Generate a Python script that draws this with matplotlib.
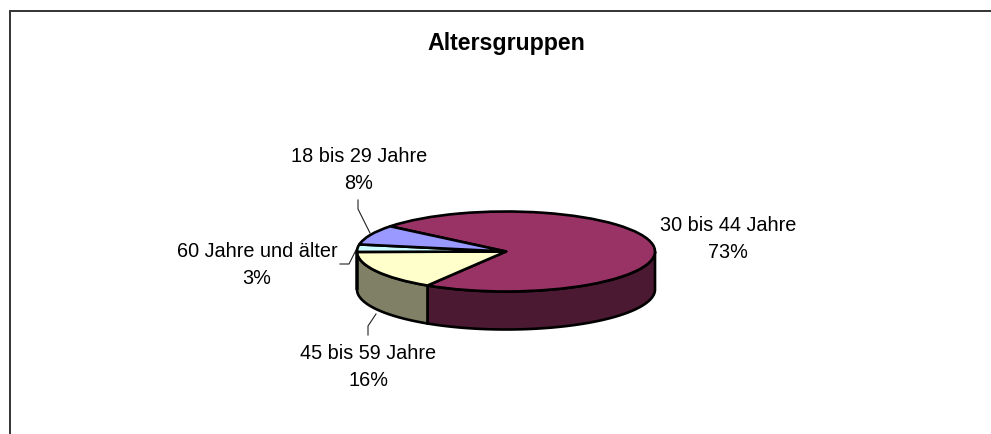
import numpy as np
import matplotlib
matplotlib.use("Agg")
import matplotlib.pyplot as plt

plt.rcParams['font.family'] = ['Liberation Sans', 'DejaVu Sans']

title_text = 'Altersgruppen'
labels = ['30 bis 44 Jahre', '45 bis 59 Jahre', '60 Jahre und älter', '18 bis 29 Jahre']
values = [73, 16, 3, 8]
top_colors = ['#993366', '#FFFFCC', '#CCFFFF', '#9999FF']
side_colors = ['#4C1933', '#808066', '#667F7F', '#4C4C7F']

W, H = 991, 435
start_angle = 141
cx, cy, rx, ry = 506, 252.5, 149, 40
depth = 38 / ry

fig = plt.figure(figsize=(W / 100, H / 100), dpi=100, facecolor='white')

# overlay in pixel coords for frame, leaders and text
bg = fig.add_axes([0, 0, 1, 1])
bg.set_xlim(0, W)
bg.set_ylim(H, 0)
bg.axis('off')

# pie axes covers the ellipse box, so the unit circle gets squashed
ax = fig.add_axes([(cx - rx) / W, 1 - (cy + ry) / H, 2 * rx / W, 2 * ry / H])
ax.patch.set_alpha(0)

wedgeprops = dict(edgecolor='black', linewidth=1.9, joinstyle='round')
ax.pie(values, startangle=start_angle, counterclock=False, colors=top_colors,
       radius=1, wedgeprops=wedgeprops)
ax.set_aspect('auto')
ax.set_xlim(-1, 1)
ax.set_ylim(-1, 1)
ax.axis('off')
for p in ax.patches:
    p.set_zorder(3)
    p.set_clip_on(False)

# side wall, only the front half of the rim shows
ends = start_angle - np.cumsum(values) * 3.6
starts = np.r_[start_angle, ends[:-1]]
for a0, a1, c in zip(starts, ends, side_colors):
    # unwrap to the range -180..0, the lower half of the ellipse
    lo, hi = max(a1, -180), min(a0, 0)
    if lo >= hi:
        continue
    t = np.radians(np.linspace(lo, hi, 80))
    xs = np.r_[np.cos(t), np.cos(t)[::-1]]
    ys = np.r_[np.sin(t), np.sin(t)[::-1] - depth]
    ax.fill(xs, ys, facecolor=c, edgecolor='black', linewidth=1.9, clip_on=False, zorder=2)

# frame, open on the right and at the bottom
bg.plot([9.5, 9.5, W], [H, 11.5, 11.5], color='#333333', lw=1.4, solid_joinstyle='miter')

# leader lines
leader_kw = dict(color='#222222', lw=0.8)
bg.plot([358, 358, 370], [201, 210, 234], **leader_kw)
bg.plot([340, 349, 358], [265, 265, 247], **leader_kw)
bg.plot([368, 368, 376], [336, 327, 315], **leader_kw)

# text
fs = 14.3
bg.text(506, 50, title_text, ha='center', va='baseline', fontsize=16.7, fontweight='bold')
label_pos = [(728, 239), (368, 367), (257, 265), (359, 170)]
for lab, v, (x, y) in zip(labels, values, label_pos):
    bg.text(x, y, f'{lab}\n{v}%', ha='center', va='center', fontsize=fs, linespacing=1.5)

fig.savefig('out.png', dpi=100, facecolor='white')
